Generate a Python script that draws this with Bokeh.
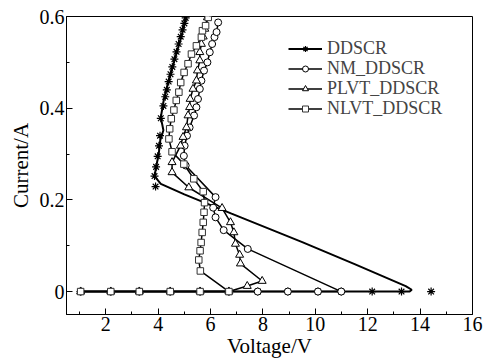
from bokeh.plotting import figure
from bokeh.models import Range1d, FixedTicker, Legend, LegendItem
from bokeh.embed import file_html
from bokeh.resources import INLINE

# ---- axis ticks ----
x_ticks = [2, 4, 6, 8, 10, 12, 14, 16]
x_minor = [1, 3, 5, 7, 9, 11, 13, 15]
y_ticks = [0, 0.2, 0.4, 0.6]
y_minor = [0.1, 0.3, 0.5]
y_tick_labels = {0: "0", 0.2: "0.2", 0.4: "0.4", 0.6: "0.6"}

# ---- DDSCR (asterisks) ----
ddscr_v = [1.04, 2.19, 3.28, 4.46, 5.6, 6.7, 7.8, 8.95, 10.1, 10.99, 12.17, 13.29, 14.42,
           3.9, 3.86, 3.92, 3.98, 4.03, 4.07, 4.1, 4.2, 4.27, 4.33, 4.4, 4.47, 4.54,
           4.62, 4.7, 4.78, 4.86, 4.93, 5.0, 5.05]
ddscr_i = [0, 0, 0, 0, 0, 0, 0, 0, 0, 0, 0, 0, 0,
           0.229, 0.252, 0.272, 0.295, 0.318, 0.34, 0.378, 0.405, 0.425, 0.44, 0.458, 0.474, 0.49,
           0.507, 0.523, 0.54, 0.556, 0.571, 0.585, 0.597]
ddscr_line_v = [1.04, 13.29, 13.6, 13.68, 13.45, 11.5, 9.5, 6.8, 5.0, 4.1, 3.86,
                3.95, 4.02, 4.08, 4.2, 4.1, 4.22, 4.4, 4.6, 4.8, 4.95, 5.05, 5.07]
ddscr_line_i = [0, 0, 0.0, 0.004, 0.012, 0.06, 0.108, 0.17, 0.212, 0.235, 0.252,
                0.28, 0.30, 0.33, 0.352, 0.38, 0.42, 0.46, 0.50, 0.54, 0.57, 0.595, 0.6]

# ---- NM_DDSCR (circles) ----
nm_v = [1.04, 2.19, 3.28, 4.46, 5.6, 6.7, 7.8, 8.95, 10.1, 10.99,
        7.42, 6.5, 6.19, 6.1, 6.19, 5.05, 4.98, 5.01, 5.1, 5.2, 5.37, 5.46, 5.52,
        5.59, 5.65, 5.75, 5.88, 5.97, 6.06, 6.15, 6.23, 6.29]
nm_i = [0, 0, 0, 0, 0, 0, 0, 0, 0, 0,
        0.093, 0.134, 0.162, 0.183, 0.206, 0.275, 0.296, 0.318, 0.34, 0.358, 0.384, 0.402, 0.42,
        0.442, 0.46, 0.482, 0.5, 0.522, 0.54, 0.555, 0.566, 0.587]

# ---- PLVT_DDSCR (triangles) ----
plvt_v = [1.04, 2.19, 3.28, 4.46, 5.6, 6.7,
          7.4, 7.97, 7.14, 7.11, 6.95, 6.89, 6.76, 6.44, 5.17, 4.53, 4.53,
          4.85, 4.95, 5.08, 5.14, 5.2, 5.22, 5.33, 5.46, 5.5, 5.59, 5.59, 5.65, 5.72, 5.78, 5.88]
plvt_i = [0, 0, 0, 0, 0, 0,
          0.012, 0.023, 0.061, 0.08, 0.104, 0.129, 0.151, 0.182, 0.227, 0.26, 0.282,
          0.318, 0.337, 0.358, 0.384, 0.402, 0.42, 0.442, 0.46, 0.482, 0.504, 0.522, 0.54, 0.556, 0.573, 0.598]

# ---- NLVT_DDSCR (squares) ----
nlvt_v = [1.04, 2.19, 3.28, 4.46, 5.6, 6.7,
          5.61, 5.55, 5.6, 5.64, 5.68, 5.72, 5.75, 5.77, 5.72, 5.36, 4.98, 4.53,
          4.41, 4.44, 4.5, 4.6, 4.69, 4.79, 4.86, 4.99, 5.14, 5.27, 5.46, 5.65, 5.69, 5.81, 5.91]
nlvt_i = [0, 0, 0, 0, 0, 0,
          0.045, 0.069, 0.089, 0.107, 0.129, 0.151, 0.173, 0.194, 0.218, 0.246, 0.278, 0.305,
          0.333, 0.355, 0.377, 0.396, 0.417, 0.435, 0.456, 0.478, 0.497, 0.518, 0.536, 0.555, 0.569, 0.58, 0.598]

series_names = ["DDSCR", "NM_DDSCR", "PLVT_DDSCR", "NLVT_DDSCR"]

FONT = "Liberation Serif"

p = figure(width=487, height=360, output_backend="svg", toolbar_location=None,
           x_range=Range1d(0.5, 16), y_range=Range1d(-0.05, 0.6),
           min_border_left=66, min_border_right=15, min_border_top=16, min_border_bottom=46)
p.xgrid.visible = False
p.ygrid.visible = False
p.outline_line_color = "black"
p.outline_line_width = 1
p.background_fill_color = "white"
p.border_fill_color = "white"

p.xaxis.ticker = FixedTicker(ticks=x_ticks, minor_ticks=x_minor)
p.yaxis.ticker = FixedTicker(ticks=y_ticks, minor_ticks=y_minor)
p.yaxis.major_label_overrides = y_tick_labels
for ax in (p.xaxis, p.yaxis):
    ax.major_tick_in = 6
    ax.major_tick_out = 0
    ax.minor_tick_in = 3
    ax.minor_tick_out = 0
    ax.axis_line_color = "black"
    ax.major_tick_line_color = "black"
    ax.minor_tick_line_color = "black"
    ax.major_label_text_font = FONT
    ax.major_label_text_font_size = "20px"
    ax.major_label_text_color = "black"
    ax.axis_label_text_font = FONT
    ax.axis_label_text_font_size = "21px"
    ax.axis_label_text_font_style = "normal"
    ax.axis_label_text_color = "black"
    ax.major_label_standoff = 2
    ax.axis_label_standoff = 0
p.xaxis.axis_label = "Voltage/V"
p.yaxis.axis_label = "Current/A"
p.yaxis.axis_label_standoff = 4

lw = 1.5
# DDSCR
l1 = p.line(ddscr_line_v, ddscr_line_i, line_color="black", line_width=2)
m1 = p.scatter(ddscr_v, ddscr_i, marker="asterisk", size=8, line_color="black", line_width=1.2)
# NM
l2 = p.line(nm_v, nm_i, line_color="black", line_width=lw)
m2 = p.scatter(nm_v, nm_i, marker="circle", size=7, line_color="black", fill_color="white", line_width=1)
# PLVT
l3 = p.line(plvt_v, plvt_i, line_color="black", line_width=lw)
m3 = p.scatter(plvt_v, plvt_i, marker="triangle", size=8, line_color="black", fill_color="white", line_width=1)
# NLVT
l4 = p.line(nlvt_v, nlvt_i, line_color="black", line_width=lw)
m4 = p.scatter(nlvt_v, nlvt_i, marker="square", size=6.5, line_color="#333333", fill_color="white", line_width=1)

renderer_pairs = [(l1, m1), (l2, m2), (l3, m3), (l4, m4)]
# one single-row legend per series, stacked 20 px apart
for k, (name, (ln, mk)) in enumerate(zip(series_names, renderer_pairs)):
    lg = Legend(items=[LegendItem(label=name, renderers=[ln, mk])],
                location=(222, 255 - 20 * k), orientation="vertical",
                border_line_color=None, background_fill_alpha=0,
                padding=0, margin=0, spacing=0,
                glyph_width=34, glyph_height=15, label_height=15, label_standoff=5,
                label_text_font=FONT, label_text_font_size="18px")
    p.add_layout(lg, "center")

open("out.html", "w").write(file_html(p, INLINE))
